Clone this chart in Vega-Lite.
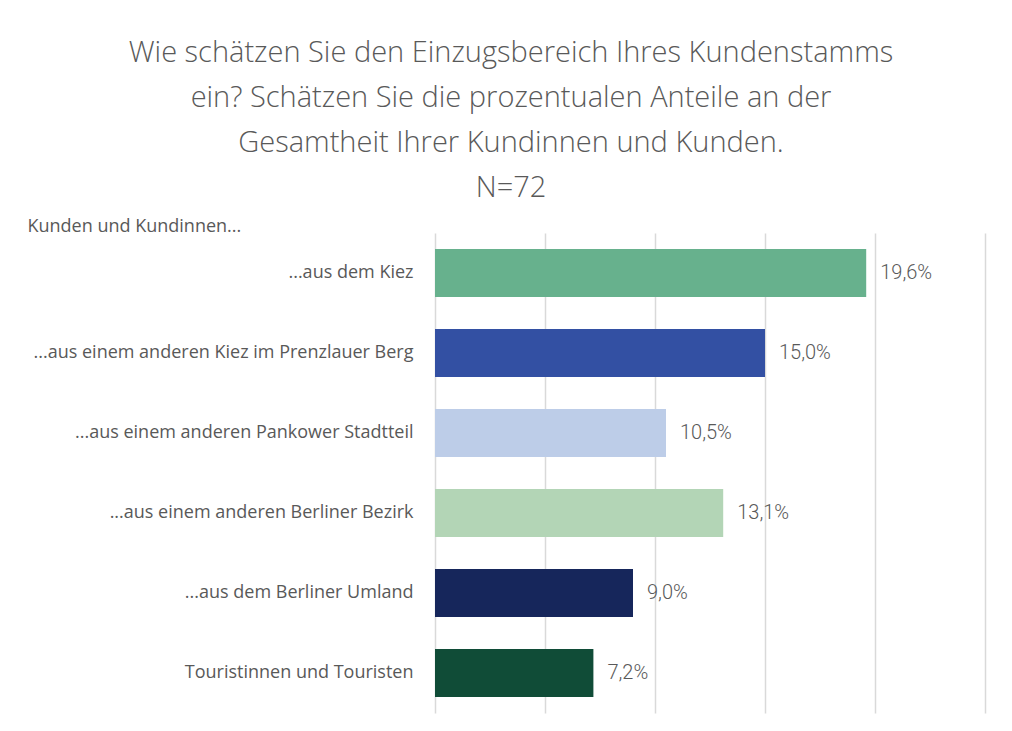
{
  "$schema": "https://vega.github.io/schema/vega-lite/v6.json",
  "autosize": "none",
  "width": 550,
  "height": 480,
  "padding": {"left": 435, "top": 233, "right": 27, "bottom": 18},
  "background": "white",
  "config": {
    "view": {"stroke": null},
    "locale": {"number": {"decimal": ",", "thousands": ".", "grouping": [3], "currency": ["", " €"]}}
  },
  "title": {
    "text": ["Wie schätzen Sie den Einzugsbereich Ihres Kundenstamms", "ein? Schätzen Sie die prozentualen Anteile an der", "Gesamtheit Ihrer Kundinnen und Kunden.", "N=72"],
    "font": "Open Sans",
    "fontSize": 29,
    "fontWeight": 300,
    "color": "#595959",
    "lineHeight": 45,
    "anchor": "middle",
    "dx": -199,
    "offset": 14
  },
  "data": {
    "values": [
      {"kategorie": "...aus dem Kiez", "anteil": 0.196},
      {"kategorie": "...aus einem anderen Kiez im Prenzlauer Berg", "anteil": 0.150},
      {"kategorie": "...aus einem anderen Pankower Stadtteil", "anteil": 0.105},
      {"kategorie": "...aus einem anderen Berliner Bezirk", "anteil": 0.131},
      {"kategorie": "...aus dem Berliner Umland", "anteil": 0.090},
      {"kategorie": "Touristinnen und Touristen", "anteil": 0.072}
    ]
  },
  "encoding": {
    "y": {
      "field": "kategorie",
      "type": "nominal",
      "sort": null,
      "scale": {"paddingInner": 0.4, "paddingOuter": 0.2},
      "axis": {
        "title": "Kunden und Kundinnen...",
        "titleAngle": 0,
        "titleAlign": "left",
        "titleBaseline": "middle",
        "titleX": -408,
        "titleY": -7,
        "titleFont": "Open Sans",
        "titleFontSize": 18,
        "titleFontWeight": "normal",
        "titleColor": "#595959",
        "labelFont": "Open Sans",
        "labelFontSize": 18,
        "labelFontWeight": "normal",
        "labelColor": "#595959",
        "labelPadding": 22,
        "labelLimit": 420,
        "ticks": false,
        "domain": false,
        "grid": false
      }
    },
    "x": {
      "field": "anteil",
      "type": "quantitative",
      "scale": {"domain": [0, 0.25], "nice": false},
      "axis": {
        "values": [0, 0.05, 0.1, 0.15, 0.2, 0.25],
        "labels": false,
        "ticks": false,
        "domain": false,
        "title": null,
        "grid": true,
        "gridColor": "#d9d9d9",
        "gridWidth": 1.5
      }
    }
  },
  "layer": [
    {
      "mark": {"type": "bar"},
      "encoding": {
        "color": {
          "field": "kategorie",
          "type": "nominal",
          "sort": null,
          "scale": {
            "domain": ["...aus dem Kiez", "...aus einem anderen Kiez im Prenzlauer Berg", "...aus einem anderen Pankower Stadtteil", "...aus einem anderen Berliner Bezirk", "...aus dem Berliner Umland", "Touristinnen und Touristen"],
            "range": ["#67b18d", "#3350a3", "#bdcde8", "#b3d5b6", "#16265b", "#104c37"]
          },
          "legend": null
        }
      }
    },
    {
      "mark": {"type": "text", "align": "left", "baseline": "middle", "dx": 14, "font": "Roboto", "fontSize": 20, "fontWeight": 300, "color": "#595959"},
      "encoding": {
        "text": {"field": "anteil", "type": "quantitative", "format": ".1%"}
      }
    }
  ]
}
